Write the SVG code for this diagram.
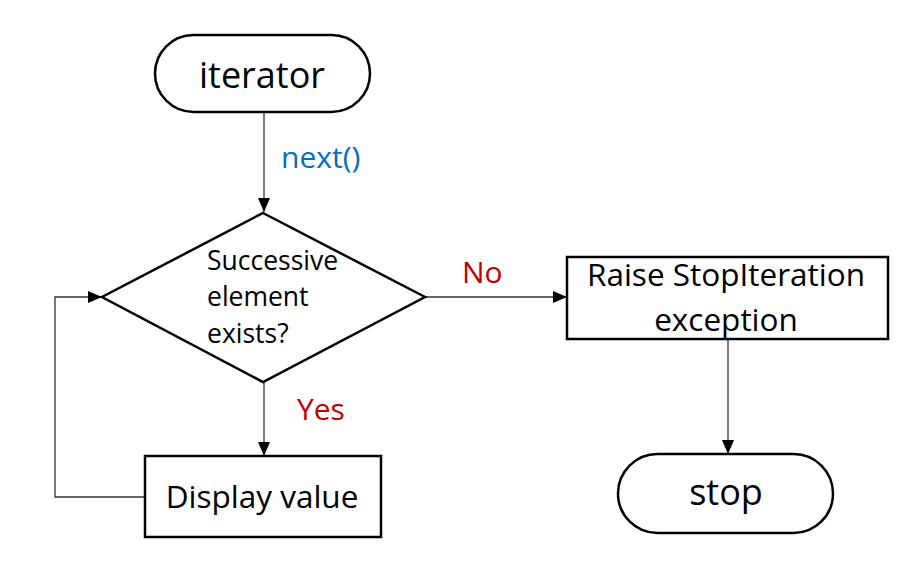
<svg xmlns="http://www.w3.org/2000/svg" width="916" height="564" viewBox="0 0 916 564">
<defs>
<marker id="arrL" viewBox="0 0 14 12" refX="14" refY="6" markerWidth="14" markerHeight="12" markerUnits="userSpaceOnUse" orient="auto">
<path d="M0,0 L14,6 L0,12 z" fill="#000"/>
</marker>
</defs>
<style>
.shape{fill:#fff;stroke:#000;stroke-width:2.5}
.conn{fill:none;stroke:#333;stroke-width:1.3}
.t{font-family:"Open Sans","Liberation Sans",sans-serif;fill:#000}
.big{font-size:36px}
.mid{font-size:31.5px}
.sm{font-size:26.5px}
.lab{font-size:30px}
.blue{fill:#0070C0}
.red{fill:#C00000}
</style>
<rect width="916" height="564" fill="#fff"/>
<g id="connectors">
<line class="conn" x1="264" y1="112" x2="264" y2="212" marker-end="url(#arrL)"/>
<line class="conn" x1="425" y1="297" x2="567" y2="297" marker-end="url(#arrL)"/>
<line class="conn" x1="264" y1="382" x2="264" y2="456" marker-end="url(#arrL)"/>
<line class="conn" x1="728" y1="339" x2="728" y2="454" marker-end="url(#arrL)"/>
<polyline class="conn" points="145,497 55,497 55,297 102,297" marker-end="url(#arrL)"/>
<text class="t lab blue" x="281" y="168">next()</text>
<text class="t lab red" x="462" y="283">No</text>
<text class="t lab red" x="297" y="420">Yes</text>
</g>
<g id="iterator">
<rect class="shape" x="155" y="35" width="215" height="77" rx="38.5"/>
<text class="t big" x="262" y="88" text-anchor="middle">iterator</text>
</g>
<g id="decision">
<polygon class="shape" points="263,213 425,297 263,382 102,297"/>
<text class="t sm" x="207" y="270">Successive</text>
<text class="t sm" x="207" y="306">element</text>
<text class="t sm" x="207" y="343">exists?</text>
</g>
<g id="raise">
<rect class="shape" x="567" y="257" width="321" height="82"/>
<text class="t mid" x="726" y="286" text-anchor="middle">Raise StopIteration</text>
<text class="t mid" x="726" y="331" text-anchor="middle">exception</text>
</g>
<g id="display">
<rect class="shape" x="145" y="456" width="236" height="81"/>
<text class="t mid" x="262" y="508" text-anchor="middle">Display value</text>
</g>
<g id="stop">
<rect class="shape" x="618" y="454" width="215" height="79" rx="39.5"/>
<text class="t big" x="726" y="505" text-anchor="middle">stop</text>
</g>
</svg>
